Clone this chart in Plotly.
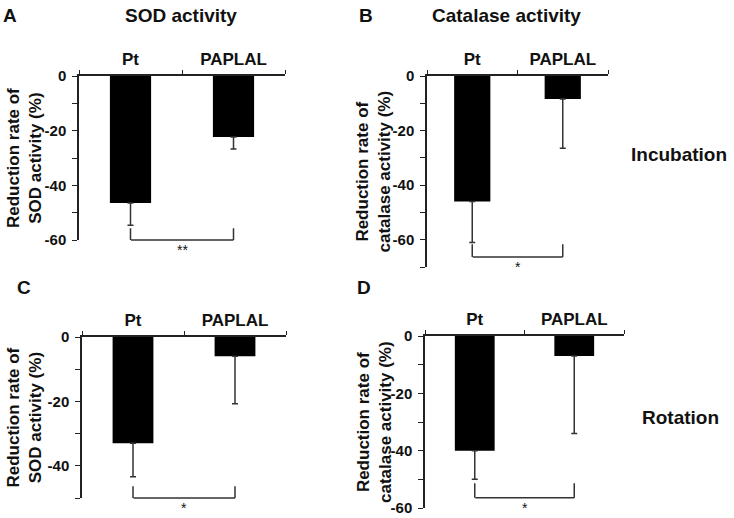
import plotly.graph_objects as go

# ---------------- data ----------------
categories = ["Pt", "PAPLAL"]
panel_letters = ["A", "B", "C", "D"]
panel_titles = ["SOD activity", "Catalase activity", "", ""]
y_titles = [
    "Reduction rate of<br>SOD activity (%)",
    "Reduction rate of<br>catalase activity (%)",
    "Reduction rate of<br>SOD activity (%)",
    "Reduction rate of<br>catalase activity (%)",
]
row_labels = ["Incubation", "Rotation"]

means_A = [-46.5, -22.3]
err_A = [8.1, 4.4]
means_B = [-46.0, -8.4]
err_B = [15.0, 18.1]
means_C = [-33.0, -6.0]
err_C = [10.4, 14.7]
means_D = [-40.0, -7.0]
err_D = [10.0, 27.0]

y_min = [-60, -70, -50, -60]
tick_vals_A = [0, -20, -40, -60]
tick_vals_B = [0, -20, -40, -60]
tick_vals_C = [0, -20, -40]
tick_vals_D = [0, -20, -40, -60]
tick_text_A = ["0", "-20", "-40", "-60"]
tick_text_B = ["0", "-20", "-40", "-60"]
tick_text_C = ["0", "-20", "-40"]
tick_text_D = ["0", "-20", "-40", "-60"]

bracket_top = [-55.5, -61.5, -46.2, -51.2]
bracket_bottom = [-60.0, -66.3, -50.0, -56.4]
sig_labels = ["**", "*", "*", "*"]

# ---------------- layout geometry (pixels) ----------------
W, H = 734, 518
FONT = "Arial, 'Liberation Sans', Helvetica, sans-serif"
INK = "#111111"
LINE = "#222222"

def px(x):
    return x / W

def py(y):
    return 1 - y / H

# plot-area boxes: (left, right, top, bottom) in pixels
boxes = [
    (79, 285, 76, 240),
    (427, 608, 76, 267),
    (82, 286, 337, 498),
    (425, 624, 336, 508),
]

means = [means_A, means_B, means_C, means_D]
errs = [err_A, err_B, err_C, err_D]
tvals = [tick_vals_A, tick_vals_B, tick_vals_C, tick_vals_D]
ttext = [tick_text_A, tick_text_B, tick_text_C, tick_text_D]

fig = go.Figure()
layout = dict(
    template="none",
    width=W, height=H, autosize=False,
    margin=dict(l=0, r=0, t=0, b=0, pad=0, autoexpand=False),
    paper_bgcolor="white", plot_bgcolor="white",
    showlegend=False,
    font=dict(family=FONT, color=INK),
)
annotations = []

def seg(xa, ya, x0, y0, x1, y1):
    return dict(
        x=x1, y=y1, ax=x0, ay=y0, xref=xa, yref=ya, axref=xa, ayref=ya,
        text="", showarrow=True, arrowhead=0, arrowwidth=1.5,
        arrowcolor="#333333", standoff=0, startstandoff=0, borderpad=0,
    )

for i in range(4):
    sfx = "" if i == 0 else str(i + 1)
    xa, ya = "x" + sfx, "y" + sfx
    l, r, t, b = boxes[i]

    fig.add_trace(go.Bar(
        x=categories, y=means[i], xaxis=xa, yaxis=ya,
        width=0.4, marker=dict(color="black", line=dict(width=0)),
        error_y=dict(type="data", symmetric=False,
                     array=[0] * len(categories), arrayminus=errs[i],
                     color="#333333", thickness=1.5, width=3),
        hoverinfo="skip",
    ))

    layout["xaxis" + sfx] = dict(
        domain=[px(l), px(r)], anchor=ya, side="top", automargin=False,
        type="category", categoryorder="array", categoryarray=categories,
        range=[-0.5, 1.5],
        showline=True, linecolor=LINE, linewidth=1.5,
        ticks="outside", ticklen=4, tickwidth=1.2, tickcolor=LINE,
        tickson="boundaries", showgrid=False, zeroline=False,
        tickfont=dict(size=17, family=FONT, weight="bold", color=INK),
        ticklabelstandoff=2, fixedrange=True,
    )
    layout["yaxis" + sfx] = dict(
        domain=[py(b), py(t)], anchor=xa, automargin=False,
        range=[y_min[i], 0],
        tickmode="array", tickvals=tvals[i], ticktext=ttext[i],
        showline=True, linecolor=LINE, linewidth=1.5,
        ticks="outside", ticklen=5, tickwidth=1.2, tickcolor=LINE,
        minor=dict(tickmode="linear", tick0=0, dtick=10, ticks="outside",
                   ticklen=5, tickwidth=1.2, tickcolor=LINE, showgrid=False),
        showgrid=False, zeroline=False,
        tickfont=dict(size=15, family=FONT, weight="bold", color=INK),
        ticklabelstandoff=3, fixedrange=True,
    )

    # significance bracket (via annotation arrows)
    i0, i1 = 0, len(categories) - 1
    annotations.append(seg(xa, ya, i0, bracket_top[i], i0, bracket_bottom[i]))
    annotations.append(seg(xa, ya, i0, bracket_bottom[i], i1, bracket_bottom[i]))
    annotations.append(seg(xa, ya, i1, bracket_top[i], i1, bracket_bottom[i]))

    # significance label
    annotations.append(dict(
        x=0.5, y=bracket_bottom[i], xref=xa, yref=ya,
        text=sig_labels[i], showarrow=False, yanchor="top",
        font=dict(size=14, family=FONT, color=INK),
    ))

# y-axis titles
ytitle_x = [24, 373, 24, 374]
for i in range(4):
    l, r, t, b = boxes[i]
    annotations.append(dict(
        x=px(ytitle_x[i]), y=py((t + b) / 2), xref="paper", yref="paper",
        text=y_titles[i], textangle=-90, showarrow=False,
        xanchor="center", yanchor="middle",
        font=dict(size=17, family=FONT, weight="bold", color=INK),
    ))

# panel letters
letter_pos = [(10, 15), (366, 15), (24, 287), (364, 287)]
for i in range(4):
    annotations.append(dict(
        x=px(letter_pos[i][0]), y=py(letter_pos[i][1]), xref="paper", yref="paper",
        text=panel_letters[i], showarrow=False, xanchor="center", yanchor="middle",
        font=dict(size=19, family=FONT, weight="bold", color=INK),
    ))

# panel titles
title_pos = [(181, 15), (506, 15)]
for i in range(2):
    annotations.append(dict(
        x=px(title_pos[i][0]), y=py(title_pos[i][1]), xref="paper", yref="paper",
        text=panel_titles[i], showarrow=False, xanchor="center", yanchor="middle",
        font=dict(size=19, family=FONT, weight="bold", color=INK),
    ))

# row labels
row_pos = [(679, 154), (680, 417)]
for i in range(2):
    annotations.append(dict(
        x=px(row_pos[i][0]), y=py(row_pos[i][1]), xref="paper", yref="paper",
        text=row_labels[i], showarrow=False, xanchor="center", yanchor="middle",
        font=dict(size=19, family=FONT, weight="bold", color=INK),
    ))

layout["annotations"] = annotations
fig.update_layout(**layout)
fig.write_html(
    "out.html",
    config=dict(displayModeBar=False, responsive=False, staticPlot=False),
    post_script="document.body.style.margin='0';document.body.style.overflow='hidden';",
)
